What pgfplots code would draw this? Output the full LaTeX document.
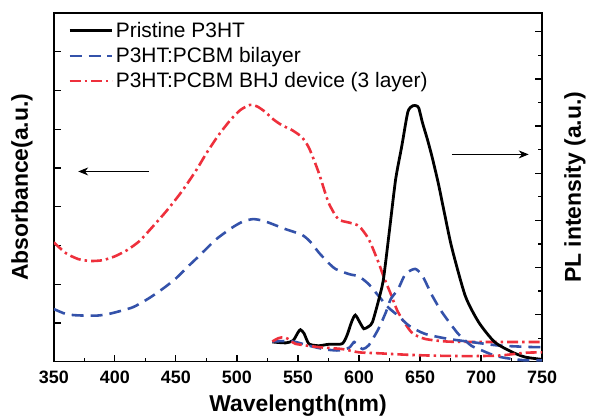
\documentclass[border=0pt]{standalone}
\usepackage{fontspec}
\setmainfont{Liberation Sans}
\usepackage{pgfplots}
\pgfplotsset{compat=1.18}
\usetikzlibrary{arrows.meta}

\definecolor{plblue}{RGB}{52,82,170}
\definecolor{plred}{RGB}{238,48,60}

\pgfplotsset{
  common/.style={
    scale only axis, width=490pt, height=350pt,
    xmin=350, xmax=750,
    tick align=inside,
    axis line style={line width=1.4pt},
    every tick/.style={line width=1.2pt, black},
    major tick length=7pt, minor tick length=4pt,
    /pgf/number format/assume math mode=true,
    ticklabel style={font=\bfseries\fontsize{18}{18}\selectfont},
    label style={font=\bfseries\fontsize{23}{23}\selectfont},
  },
  blueline/.style={color=plblue, line width=2.6pt, dash pattern=on 12pt off 7pt},
  redline/.style={color=plred, line width=2.6pt, dash pattern=on 11pt off 4pt on 2.5pt off 4pt},
}

\begin{document}
\begin{tikzpicture}
% absorbance, left axis
\begin{axis}[common,
    ymin=0, ymax=9, ytick={0,...,9}, yticklabels={},
    xtick={350,400,...,750}, minor x tick num=1,
    xtick pos=bottom, ytick pos=left,
    xticklabel style={yshift=-6pt},
    xlabel={Wavelength(nm)},
    xlabel style={at={(axis description cs:0.5,-0.126)}, anchor=center},
    ylabel={Absorbance(a.u.)},
    ylabel style={at={(axis description cs:-0.0653,0.5)}, anchor=center},
]
% P3HT:PCBM BHJ device
\addplot[redline, smooth, tension=0.4] coordinates {
(350,3.08)(360,2.80)(370,2.65)(380,2.60)(390,2.62)(400,2.72)(410,2.88)(420,3.11)
(430,3.45)(442,3.88)(455,4.40)(467,4.96)(475,5.38)(485,5.85)(495,6.25)(503,6.50)
(511,6.63)(517,6.58)(523,6.45)(530,6.25)(537,6.10)(545,5.98)(553,5.80)(559,5.52)
(567,4.88)(575,4.11)(583,3.68)(592,3.59)(600,3.50)(608,3.16)(616,2.56)(620,2.21)
(626,1.75)(632,1.28)(643,0.76)(654,0.59)(673,0.52)(700,0.51)(750,0.51)};
% P3HT:PCBM bilayer
\addplot[blueline, smooth, tension=0.4] coordinates {
(350,1.36)(360,1.23)(368,1.20)(377,1.19)(385,1.19)(393,1.22)(401,1.28)(415,1.41)
(428,1.64)(440,1.90)(450,2.15)(460,2.46)(469,2.73)(483,3.16)(496,3.46)(505,3.62)
(513,3.68)(520,3.65)(526,3.59)(540,3.42)(553,3.28)(560,3.10)(567,2.82)(575,2.55)
(581,2.39)(592,2.26)(600,2.20)(608,2.00)(616,1.70)(624,1.40)(632,1.19)(641,0.93)
(654,0.72)(673,0.59)(692,0.51)(714,0.42)(741,0.38)(750,0.38)};
\draw[line width=0.9pt, -{Stealth[length=10pt,width=8pt]}] (axis cs:428,4.91) -- (axis cs:370,4.91);
\draw[line width=0.9pt, -{Stealth[length=10pt,width=8pt]}] (axis cs:676,5.35) -- (axis cs:739,5.35);
\end{axis}
% PL, right axis
\begin{axis}[common,
    axis x line=none, axis y line*=right,
    ymin=0, ymax=7.4, ytick={0,...,7}, yticklabels={}, minor y tick num=1,
    ylabel={PL intensity (a.u.)},
    ylabel style={at={(axis description cs:1.0673,0.5)}, anchor=center},
    legend style={draw=none, fill=none, at={(axis description cs:0.025,0.985)}, anchor=north west,
      font=\fontsize{21}{25}\selectfont, row sep=4.5pt, inner sep=2pt},
    legend cell align=left,
    legend image code/.code={\draw[#1] (0pt,0pt) -- (43pt,0pt);},
]
\addplot[black, line width=2.8pt, smooth, tension=0.4] coordinates {
(529,0.42)(540,0.40)(546,0.45)(550,0.62)(552,0.68)(555,0.60)(559,0.38)(567,0.34)
(575,0.37)(586,0.38)(590,0.55)(594,0.85)(597,0.99)(601,0.82)(604,0.70)(608,0.75)
(611,0.84)(616,1.30)(620,1.75)(625,2.80)(630,3.87)(635,4.57)(640,5.30)(644,5.43)
(647,5.43)(649,5.38)(652,5.07)(656,4.72)(660,4.33)(665,3.78)(670,3.15)(676,2.42)
(687,1.40)(698,0.84)(711,0.42)(725,0.21)(736,0.10)(750,0.05)};
\addlegendentry{Pristine P3HT}
\addplot[blueline, smooth, tension=0.4] coordinates {
(529,0.43)(540,0.44)(548,0.42)(559,0.34)(573,0.26)(584,0.24)(592,0.30)(596,0.42)
(599,0.35)(603,0.27)(608,0.35)(616,0.70)(622,1.05)(626,1.33)(632,1.54)(638,1.86)
(646,1.97)(652,1.82)(660,1.40)(668,1.05)(681,0.60)(692,0.34)(698,0.27)(710,0.14)
(720,0.08)(736,0.03)(750,0.03)};
\addlegendentry{P3HT:PCBM bilayer}
\addplot[redline, smooth, tension=0.4] coordinates {
(529,0.43)(534,0.50)(539,0.52)(544,0.45)(548,0.38)(567,0.31)(586,0.27)(600,0.20)
(616,0.18)(638,0.15)(660,0.13)(687,0.12)(714,0.13)(736,0.19)(750,0.20)};
\addlegendentry{P3HT:PCBM BHJ device (3 layer)}
\end{axis}
\path (-54pt,-55pt) rectangle (535pt,363pt);
\end{tikzpicture}
\end{document}
